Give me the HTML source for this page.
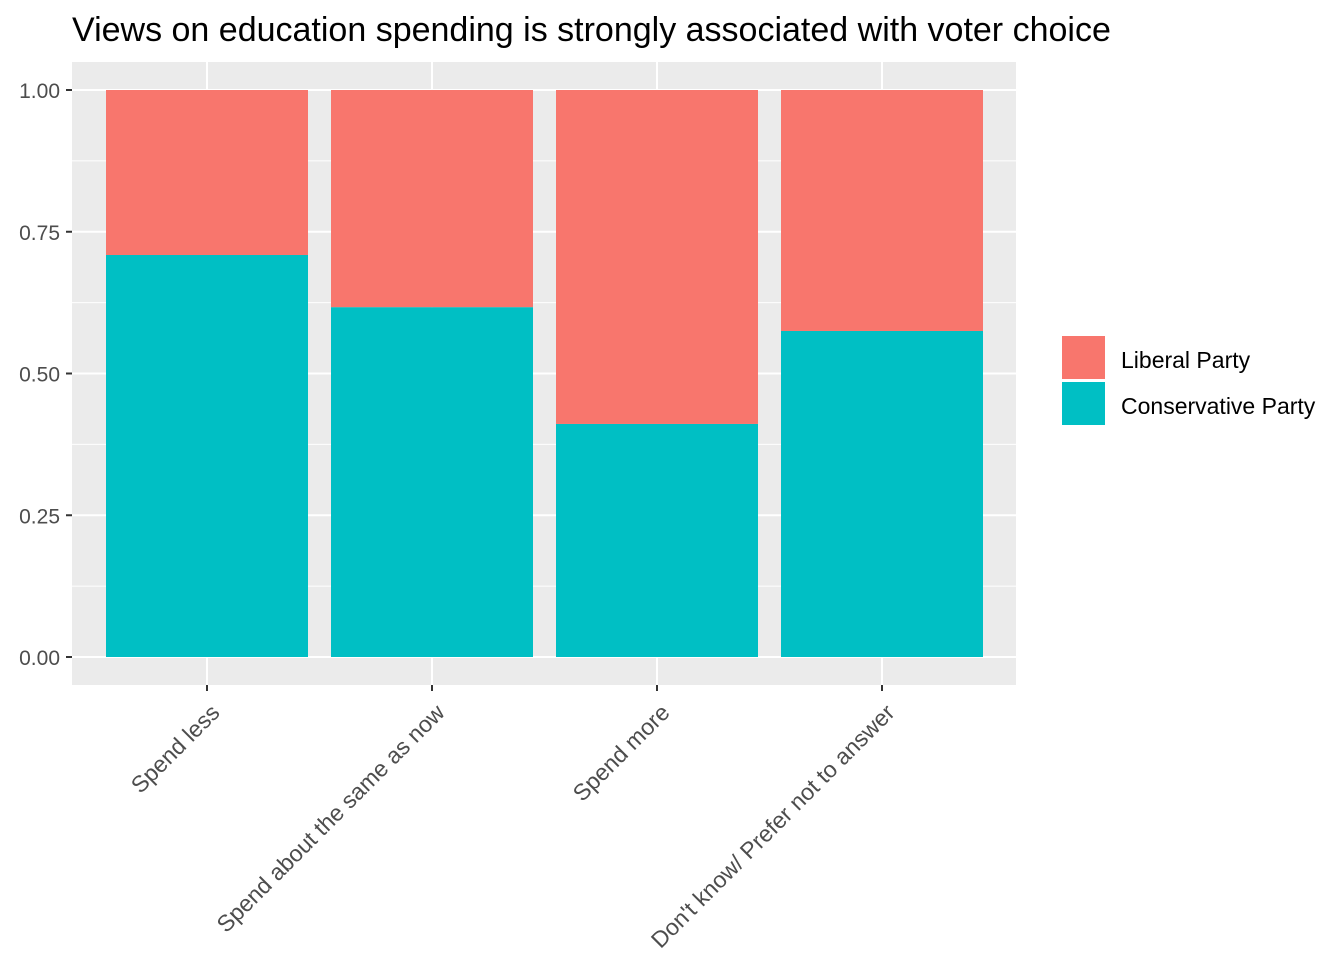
<!DOCTYPE html>
<html><head><meta charset="utf-8"><style>
body{margin:0;background:#fff;}
svg text{font-family:"Liberation Sans",Arial,sans-serif;}
</style></head><body>
<svg id="chart" width="1344" height="960" xmlns="http://www.w3.org/2000/svg">
<rect width="1344" height="960" fill="#fff"/>
<text x="72" y="41" font-size="34" fill="#000">Views on education spending is strongly associated with voter choice</text>
<rect x="72" y="62" width="944" height="623" fill="#EBEBEB"/>
<g id="grid"></g><g id="bars"></g><g id="axes"></g>
<g>
<rect x="1062" y="336" width="43" height="43" fill="#F8766D"/>
<text x="1121" y="368" font-size="23" fill="#000">Liberal Party</text>
<rect x="1062" y="382" width="43" height="43" fill="#00BFC4"/>
<text x="1121" y="414" font-size="23" fill="#000">Conservative Party</text>
</g>
</svg>
<script>
const categories=["Spend less","Spend about the same as now","Spend more","Don't know/ Prefer not to answer"];
const conservative=[0.709,0.617,0.411,0.575];
const liberal=[0.291,0.383,0.589,0.425];
const yTicks=[0,0.25,0.5,0.75,1];
const yTickLabels=["0.00","0.25","0.50","0.75","1.00"];
const NS="http://www.w3.org/2000/svg";
const y=v=>657-v*567;
const x=i=>207+i*225;
const bw=202;
function mk(tag,attrs,parent){const e=document.createElementNS(NS,tag);for(const k in attrs)e.setAttribute(k,attrs[k]);parent.appendChild(e);return e;}
const grid=document.getElementById('grid'),bars=document.getElementById('bars'),axes=document.getElementById('axes');
for(let i=0;i<yTicks.length-1;i++){const v=(yTicks[i]+yTicks[i+1])/2;
 const l=mk('line',{x1:72,x2:1016,y1:y(v),y2:y(v),stroke:'#fff','stroke-width':1},grid);
 
 }
yTicks.forEach((v,i)=>{
 const l=mk('line',{x1:72,x2:1016,y1:y(v),y2:y(v),stroke:'#fff','stroke-width':2},grid);
 
 
 const t=mk('line',{x1:66,x2:72,y1:y(v),y2:y(v),stroke:'#333','stroke-width':2},axes);
 
 
 const tx=mk('text',{x:60,y:y(v)+8,'text-anchor':'end','font-size':21,fill:'#4D4D4D'},axes);
 tx.textContent=yTickLabels[i];
 
 
});
categories.forEach((c,i)=>{
 const g=mk('line',{x1:x(i),x2:x(i),y1:62,y2:685,stroke:'#fff','stroke-width':2},grid);
 
 
 const b1=mk('rect',{x:x(i)-bw/2,y:y(conservative[i]),width:bw,height:y(0)-y(conservative[i]),fill:'#00BFC4'},bars);
 
 
 const b2=mk('rect',{x:x(i)-bw/2,y:y(conservative[i]+liberal[i]),width:bw,height:y(conservative[i])-y(conservative[i]+liberal[i]),fill:'#F8766D'},bars);
 
 
 const t=mk('line',{x1:x(i),x2:x(i),y1:685,y2:691,stroke:'#333','stroke-width':2},axes);
 
 
 const tx=mk('text',{transform:`translate(${x(i)+14},${714}) rotate(-45)`,'text-anchor':'end','font-size':23,fill:'#4D4D4D'},axes);
 tx.textContent=c;
 
 
});
</script>
</body></html>
